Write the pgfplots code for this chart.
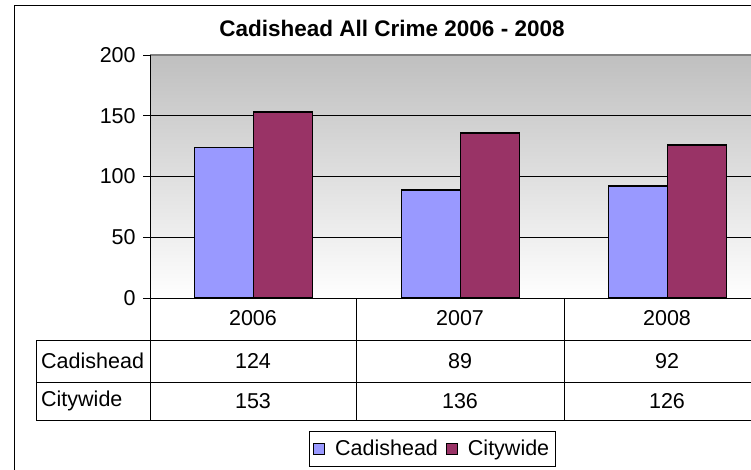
\documentclass[border=0pt]{standalone}
\usepackage{fontspec}
\setmainfont{Liberation Sans}
\usepackage{pgfplots}
\pgfplotsset{compat=1.18}
\definecolor{cad}{HTML}{9999FF}
\definecolor{city}{HTML}{993366}
\pgfplotsset{sqlegend/.style={legend image code/.code={\draw[##1,draw=black,line width=1pt] (0pt,-5.5pt) rectangle (11pt,5.5pt);}}}
\newcommand\lbl{\fontsize{21.5}{25}\selectfont}
\begin{document}
\lbl
\begin{tikzpicture}[x=1pt,y=1pt]
\fill[white] (0,0) rectangle (751,469);
\begin{scope}
\clip (0,0) rectangle (751,469);
\draw[black, line width=1pt] (14,-10) -- (14,463) -- (770,463);
\node[font=\bfseries\fontsize{22.5}{26}\selectfont] at (392,441) {Cadishead All Crime 2006 - 2008};
\begin{axis}[at={(150pt,171pt)}, anchor=south west, scale only axis,
  width=621pt, height=243pt,
  xmin=-0.5, xmax=2.5, ymin=0, ymax=200,
  ytick={0,50,100,150,200}, xtick=\empty,
  ybar=0pt, bar width=59pt,
  ymajorgrids, grid style={black, line width=0.8pt},
  axis line style={draw=none},
  tick align=outside, major tick length=7pt,
  ytick style={black, line width=0.8pt},
  /pgf/number format/assume math mode=true,
  yticklabel style={font=\lbl},
  axis background/.style={top color=black!25, bottom color=white},
  clip=false,
  legend style={at={(0.4544,-0.621)}, anchor=center, draw=black, line width=0.8pt,
    font=\lbl, legend columns=2,
    inner xsep=4pt, inner ysep=6pt,
    /tikz/every odd column/.append style={column sep=8pt},
    /tikz/every even column/.append style={column sep=6pt}},
]
\addplot[fill=cad, draw=black, line width=1.6pt, sqlegend] coordinates {(0,124) (1,89) (2,92)};
\addplot[fill=city, draw=black, line width=1.6pt, sqlegend] coordinates {(0,153) (1,136) (2,126)};
\legend{Cadishead, Citywide}
\draw[black!50, line width=1.5pt] (rel axis cs:0,1) -- (rel axis cs:1,1);
\draw[black, line width=0.8pt] (rel axis cs:0,0) -- (rel axis cs:0,1);
\draw[black, line width=0.8pt] (rel axis cs:0,0) -- (rel axis cs:1,0);
\end{axis}
% data table
\begin{scope}[line width=0.8pt]
\draw (36,129) -- (760,129);
\draw (36,87) -- (760,87);
\draw (36,49) -- (760,49);
\draw (36,129) -- (36,49);
\draw (150,171) -- (150,49);
\draw (356,171) -- (356,49);
\draw (564,171) -- (564,49);
\end{scope}
\node at (253,151) {2006};
\node at (460,151) {2007};
\node at (667,151) {2008};
\node[anchor=west,inner sep=0pt] at (41,108) {Cadishead};
\node[anchor=west,inner sep=0pt] at (41,68) {Citywide};
\node at (253,108) {124};
\node at (460,108) {89};
\node at (667,108) {92};
\node at (253,68) {153};
\node at (460,68) {136};
\node at (667,68) {126};
\end{scope}
\pgfresetboundingbox
\useasboundingbox (0,0) rectangle (751,469);
\end{tikzpicture}
\end{document}
